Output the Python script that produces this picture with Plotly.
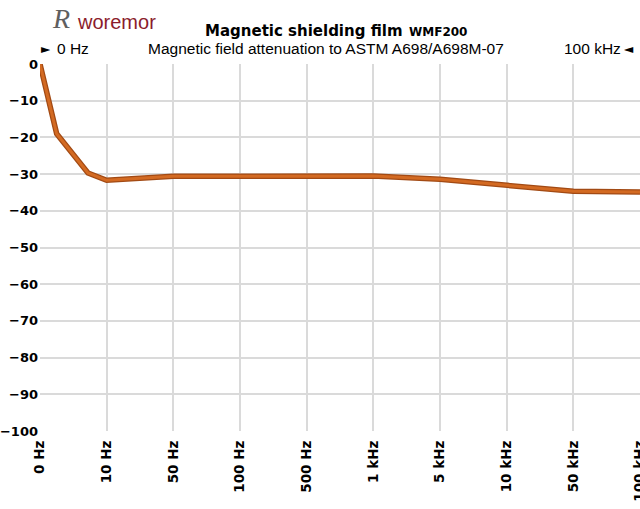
import plotly.graph_objects as go

# ---- data ----
tick_labels = ["0 Hz", "10 Hz", "50 Hz", "100 Hz", "500 Hz", "1 kHz", "5 kHz", "10 kHz", "50 kHz", "100 kHz"]
sample_pos = [0, 0.25, 0.72, 1, 2, 3, 4, 5, 6, 7, 8, 9]
attenuation_db = [0, -19.0, -29.7, -31.7, -30.6, -30.5, -30.5, -30.5, -31.4, -33.0, -34.7, -34.9]
y_ticks = list(range(-100, 1, 10))

W, H = 640, 509
L, R, T, B = 40, 0, 63.5, 77.5
PW, PH = W - L - R, H - T - B

def px(x):
    return (x - L) / PW

def py(y):
    return (H - B - y) / PH

fig = go.Figure()
fig.add_trace(go.Scatter(
    x=sample_pos, y=attenuation_db, mode="lines",
    line=dict(color="#a24a14", width=5.5), hoverinfo="skip", showlegend=False))
fig.add_trace(go.Scatter(
    x=sample_pos, y=attenuation_db, mode="lines",
    line=dict(color="#d36a22", width=3), showlegend=False))

bold = "DejaVu Sans"
ann = []
def add(text, x, y, size, fam, color="black", xa="left", weight="normal"):
    ann.append(dict(text=text, x=px(x), y=py(y), xref="paper", yref="paper",
                    xanchor=xa, yanchor="middle", showarrow=False,
                    font=dict(size=size, family=fam, color=color, weight=weight)))

add("Magnetic shielding film", 203, 30, 15, bold, weight="bold")
add("WMF200", 407, 31.5, 12, bold, weight="bold")
add("Magnetic field attenuation to ASTM A698/A698M-07", 146, 48, 15.5, "Liberation Sans")
add("►", 39, 48, 12, bold)
add("0 Hz", 55, 48, 15.5, "Liberation Sans")
add("100 kHz", 623, 48, 15.5, "Liberation Sans", xa="right")
add("◄", 622, 48, 12, bold)
add("woremor", 75, 21, 20, "Liberation Sans", color="#8b1c2c")
add("<i>R</i>", 50, 18, 28, "Liberation Serif", color="#5f5f5f")

fig.update_layout(
    width=W, height=H,
    margin=dict(l=L, r=R, t=T, b=B, pad=0),
    paper_bgcolor="white", plot_bgcolor="white",
    annotations=ann,
    xaxis=dict(range=[0, 9], tickvals=list(range(len(tick_labels))), ticktext=tick_labels,
               tickangle=-90, showgrid=True, gridcolor="#dadada", gridwidth=1.5,
               zeroline=False, showline=False, ticks="", ticklabelstandoff=6,
               ticklabeloverflow="allow",
               tickfont=dict(family=bold, size=13.5, color="black", weight="bold"),
               automargin=False, fixedrange=True),
    yaxis=dict(range=[-100, 0], tickvals=y_ticks, showgrid=True, gridcolor="#dadada",
               gridwidth=1.5, zeroline=False, showline=False, ticks="",
               ticklabelstandoff=1,
               tickfont=dict(family=bold, size=13, color="black", weight="bold"),
               automargin=False, fixedrange=True),
)

fig.write_html("out.html")
